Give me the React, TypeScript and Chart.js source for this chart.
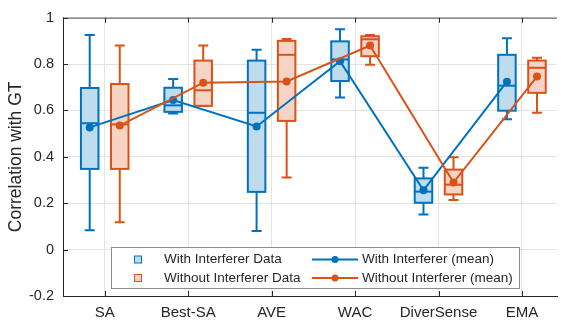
import React, { useEffect, useRef } from 'react';
import { Chart, registerables } from 'chart.js';

Chart.register(...registerables);

// Methods on the x axis
const categories = ['SA', 'Best-SA', 'AVE', 'WAC', 'DiverSense', 'EMA'];
const yTicks = [-0.2, 0, 0.2, 0.4, 0.6, 0.8, 1];

// Correlation with GT, with interferer present
const withMin = [0.083, 0.587, 0.08, 0.656, 0.151, 0.562];
const withQ1 = [0.348, 0.594, 0.249, 0.727, 0.202, 0.599];
const withMedian = [0.545, 0.622, 0.59, 0.82, 0.25, 0.707];
const withQ3 = [0.697, 0.698, 0.815, 0.898, 0.307, 0.84];
const withMax = [0.925, 0.736, 0.862, 0.95, 0.353, 0.911];
const withMean = [0.527, 0.645, 0.531, 0.812, 0.256, 0.724];

// Correlation with GT, without interferer
const withoutMin = [0.118, 0.62, 0.311, 0.797, 0.214, 0.59];
const withoutQ1 = [0.348, 0.62, 0.555, 0.834, 0.238, 0.676];
const withoutMedian = [0.54, 0.687, 0.84, 0.907, 0.28, 0.784];
const withoutQ3 = [0.714, 0.815, 0.9, 0.92, 0.345, 0.815];
const withoutMax = [0.88, 0.88, 0.908, 0.925, 0.398, 0.827];
const withoutMean = [0.535, 0.72, 0.725, 0.88, 0.289, 0.746];

const BLUE = '#0072BD';
const ORANGE = '#D95319';
const BLUE_FILL = '#BFDCEF';
const ORANGE_FILL = '#F5D4C5';
const AXIS = '#262626';
const FONT = '"Liberation Sans", Arial, Helvetica, sans-serif';

const GROUP_OFFSET = 0.18; // x-units between category centre and each box
const BOX_HALF = 0.105;
const CAP_HALF = 0.06;

const groups = [
  { offset: -GROUP_OFFSET, color: BLUE, fill: BLUE_FILL, min: withMin, q1: withQ1, med: withMedian, q3: withQ3, max: withMax },
  { offset: GROUP_OFFSET, color: ORANGE, fill: ORANGE_FILL, min: withoutMin, q1: withoutQ1, med: withoutMedian, q3: withoutQ3, max: withoutMax },
];

const boxPlugin = {
  id: 'boxes',
  beforeDatasetsDraw(chart: any) {
    const { ctx } = chart;
    const x = chart.scales.x;
    const y = chart.scales.y;
    const unit = x.getPixelForValue(2) - x.getPixelForValue(1);
    ctx.save();
    ctx.lineWidth = 2;
    groups.forEach((g) => {
      categories.forEach((_, i) => {
        const cx = x.getPixelForValue(i + 1 + g.offset);
        const hw = BOX_HALF * unit;
        const cw = CAP_HALF * unit;
        const yMin = y.getPixelForValue(g.min[i]);
        const yQ1 = y.getPixelForValue(g.q1[i]);
        const yMed = y.getPixelForValue(g.med[i]);
        const yQ3 = y.getPixelForValue(g.q3[i]);
        const yMax = y.getPixelForValue(g.max[i]);
        ctx.strokeStyle = g.color;
        // whiskers and caps
        ctx.beginPath();
        ctx.moveTo(cx, yQ3);
        ctx.lineTo(cx, yMax);
        ctx.moveTo(cx - cw, yMax);
        ctx.lineTo(cx + cw, yMax);
        ctx.moveTo(cx, yQ1);
        ctx.lineTo(cx, yMin);
        ctx.moveTo(cx - cw, yMin);
        ctx.lineTo(cx + cw, yMin);
        ctx.stroke();
        // box
        ctx.fillStyle = g.fill;
        ctx.fillRect(cx - hw, yQ3, 2 * hw, yQ1 - yQ3);
        ctx.strokeRect(cx - hw, yQ3, 2 * hw, yQ1 - yQ3);
        // median
        ctx.beginPath();
        ctx.moveTo(cx - hw, yMed);
        ctx.lineTo(cx + hw, yMed);
        ctx.stroke();
      });
    });
    ctx.restore();
  },
  afterDraw(chart: any) {
    const { ctx, chartArea } = chart;
    const x = chart.scales.x;
    const y = chart.scales.y;
    ctx.save();
    // top border
    ctx.strokeStyle = '#8a8a8a';
    ctx.lineWidth = 1.5;
    ctx.beginPath();
    ctx.moveTo(chartArea.left, chartArea.top + 0.5);
    ctx.lineTo(chartArea.right, chartArea.top + 0.5);
    ctx.stroke();
    // inward tick marks
    ctx.strokeStyle = AXIS;
    ctx.lineWidth = 1;
    ctx.beginPath();
    yTicks.forEach((v) => {
      const py = Math.round(y.getPixelForValue(v)) + 0.5;
      ctx.moveTo(chartArea.left, py);
      ctx.lineTo(chartArea.left + 5, py);
    });
    categories.forEach((_, i) => {
      const px = Math.round(x.getPixelForValue(i + 1)) + 0.5;
      ctx.moveTo(px, chartArea.bottom);
      ctx.lineTo(px, chartArea.bottom - 5);
      ctx.moveTo(px, chartArea.top);
      ctx.lineTo(px, chartArea.top + 5);
    });
    ctx.stroke();

    // legend
    const left = chartArea.left + 48;
    const top = chartArea.bottom - 49;
    const w = 408;
    const h = 41;
    ctx.fillStyle = '#ffffff';
    ctx.fillRect(left, top, w, h);
    ctx.strokeStyle = '#8c8c8c';
    ctx.lineWidth = 1;
    ctx.strokeRect(left + 0.5, top + 0.5, w, h);

    const rows = [
      { y: top + 12.5, color: BLUE, fill: BLUE_FILL, box: 'With Interferer Data', line: 'With Interferer (mean)' },
      { y: top + 31, color: ORANGE, fill: ORANGE_FILL, box: 'Without Interferer Data', line: 'Without Interferer (mean)' },
    ];
    ctx.font = `13.5px ${FONT}`;
    ctx.textBaseline = 'middle';
    ctx.textAlign = 'left';
    rows.forEach((r) => {
      // box swatch
      ctx.fillStyle = r.fill;
      ctx.fillRect(left + 23.5, r.y - 3.5, 7, 7);
      ctx.strokeStyle = r.color;
      ctx.lineWidth = 1;
      ctx.strokeRect(left + 23.5, r.y - 3.5, 7, 7);
      ctx.fillStyle = AXIS;
      ctx.fillText(r.box, left + 53, r.y);
      // line swatch
      ctx.strokeStyle = r.color;
      ctx.lineWidth = 2;
      ctx.beginPath();
      ctx.moveTo(left + 201, r.y);
      ctx.lineTo(left + 247, r.y);
      ctx.stroke();
      ctx.fillStyle = r.color;
      ctx.beginPath();
      ctx.arc(left + 224, r.y, 3.5, 0, Math.PI * 2);
      ctx.fill();
      ctx.fillStyle = AXIS;
      ctx.fillText(r.line, left + 251, r.y);
    });
    ctx.restore();
  },
};

export default function App() {
  const canvasRef = useRef<HTMLCanvasElement | null>(null);

  useEffect(() => {
    const canvas = canvasRef.current;
    if (!canvas) return;
    const chart = new Chart(canvas, {
      type: 'line',
      data: {
        datasets: [
          {
            label: 'With Interferer (mean)',
            data: withMean.map((v, i) => ({ x: i + 1 - GROUP_OFFSET, y: v })),
            borderColor: BLUE,
            backgroundColor: BLUE,
            borderWidth: 2,
            pointRadius: 4,
            pointBorderWidth: 0,
            pointBackgroundColor: BLUE,
            order: 2,
          },
          {
            label: 'Without Interferer (mean)',
            data: withoutMean.map((v, i) => ({ x: i + 1 + GROUP_OFFSET, y: v })),
            borderColor: ORANGE,
            backgroundColor: ORANGE,
            borderWidth: 2,
            pointRadius: 4,
            pointBorderWidth: 0,
            pointBackgroundColor: ORANGE,
            order: 1,
          },
        ],
      },
      options: {
        responsive: false,
        animation: false,
        devicePixelRatio: 1,
        layout: { padding: { top: 12, right: 0, left: 0, bottom: 0 } },
        plugins: {
          legend: { display: false },
          tooltip: { enabled: false },
        },
        scales: {
          x: {
            type: 'linear',
            min: 0.5,
            max: 6.42,
            afterBuildTicks: (s: any) => {
              s.ticks = categories.map((_, i) => ({ value: i + 1 }));
            },
            afterFit: (s: any) => {
              s.height = 24;
            },
            ticks: {
              autoSkip: false,
              maxRotation: 0,
              padding: 8,
              color: AXIS,
              font: { family: FONT, size: 15 },
              callback: (v: any) => categories[Math.round(Number(v)) - 1] ?? '',
            },
            grid: { color: '#e3e3e3', drawTicks: false },
            border: { color: AXIS, width: 1 },
          },
          y: {
            type: 'linear',
            min: -0.2,
            max: 1,
            afterBuildTicks: (s: any) => {
              s.ticks = yTicks.map((v) => ({ value: v }));
            },
            afterFit: (s: any) => {
              s.width = 63;
            },
            ticks: {
              padding: 9,
              color: AXIS,
              font: { family: FONT, size: 14.5 },
              callback: (v: any) => String(Number(Number(v).toFixed(1))),
            },
            grid: { color: '#e3e3e3', drawTicks: false },
            border: { color: AXIS, width: 1 },
            title: {
              display: true,
              text: 'Correlation with GT',
              color: AXIS,
              font: { family: FONT, size: 17.5 },
              padding: { top: 6, bottom: 0 },
            },
          },
        },
      },
      plugins: [boxPlugin],
    });
    return () => chart.destroy();
  }, []);

  return (
    <div style={{ position: 'fixed', left: 0, top: 0, width: 561, height: 320, background: '#fff' }}>
      <canvas ref={canvasRef} width={561} height={320} />
    </div>
  );
}
